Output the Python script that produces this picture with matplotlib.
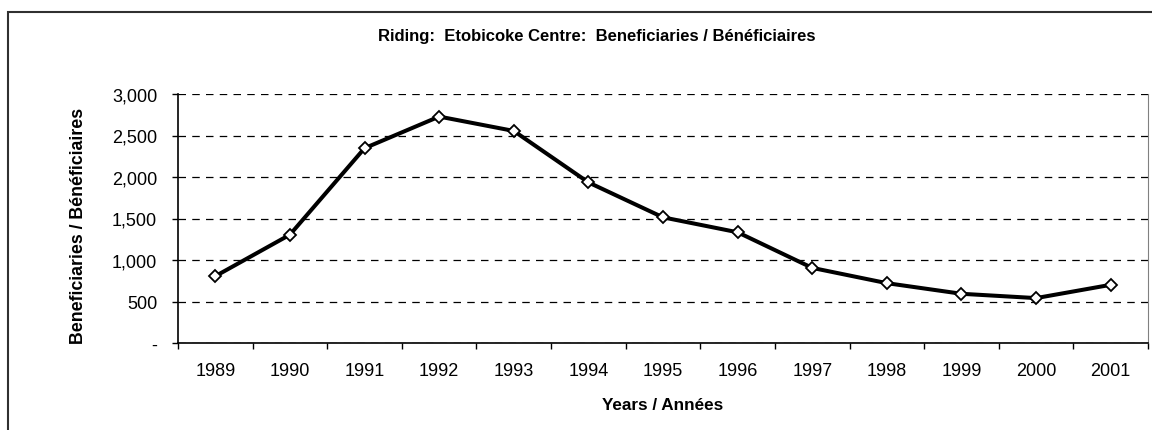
import matplotlib
matplotlib.use('Agg')
import matplotlib.pyplot as plt
from matplotlib import font_manager
from matplotlib.patches import Rectangle
from matplotlib.ticker import FuncFormatter, FixedLocator

# Данные
years = ['1989', '1990', '1991', '1992', '1993', '1994', '1995',
         '1996', '1997', '1998', '1999', '2000', '2001']
beneficiaries = [805, 1305, 2347, 2728, 2555, 1935, 1514,
                 1334, 905, 721, 593, 541, 701]
y_ticks = [0, 500, 1000, 1500, 2000, 2500, 3000]

title = 'Riding:  Etobicoke Centre:  Beneficiaries / Bénéficiaires'
x_label = 'Years / Années'
y_label = 'Beneficiaries / Bénéficiaires'

# Шрифты
names = {f.name for f in font_manager.fontManager.ttflist}
narrow = 'Liberation Sans Narrow' if 'Liberation Sans Narrow' in names else 'Liberation Sans'
plt.rcParams['font.family'] = ['Liberation Sans', 'DejaVu Sans']

W, H = 1152, 431
fig = plt.figure(figsize=(W / 100, H / 100), dpi=100)

# Рамка вокруг диаграммы (уходит за правый и нижний край)
frame = Rectangle((8 / W, -0.2), 1.2, 1 - 13 / H + 0.2, transform=fig.transFigure,
                  fill=False, edgecolor='#303030', linewidth=1.5, clip_on=False)
fig.patches.append(frame)

ax = fig.add_axes([178 / W, 1 - 344 / H, (1148 - 178) / W, (344 - 95) / H])

x = list(range(len(years)))
ax.plot(x, beneficiaries, color='black', linewidth=2.9, marker='D', markersize=6.5,
        markerfacecolor='white', markeredgecolor='black', markeredgewidth=1.3,
        zorder=3)

ax.set_xlim(-0.5, len(years) - 0.5)
ax.set_ylim(0, 3000)

# Деления оси X на границах категорий, подписи по центрам
ax.xaxis.set_major_locator(FixedLocator([i - 0.5 for i in range(len(years) + 1)]))
ax.xaxis.set_major_formatter(FuncFormatter(lambda v, p: ''))
ax.xaxis.set_minor_locator(FixedLocator(x))
ax.set_xticklabels(years, minor=True)
ax.tick_params(axis='x', which='major', direction='out', length=4, width=1, color='black')
ax.tick_params(axis='x', which='minor', length=0, pad=14, labelsize=13)

ax.set_yticks(y_ticks)
ax.yaxis.set_major_formatter(FuncFormatter(lambda v, p: '-' if v == 0 else f'{v:,.0f}'))
ax.tick_params(axis='y', direction='out', length=4, width=1, pad=11, labelsize=13)

ax.yaxis.grid(True, color='black', linewidth=0.9, linestyle=(0, (6, 5)))
ax.set_axisbelow(True)

ax.spines['top'].set_visible(False)
ax.spines['right'].set_color('#808080')
ax.spines['left'].set_linewidth(1.2)
ax.spines['bottom'].set_linewidth(1.2)

ax.set_xlabel(x_label, fontsize=12.3, fontweight='bold', family=narrow)
ax.xaxis.set_label_coords(0.5, -0.215)
ax.set_ylabel(y_label, fontsize=12.8, fontweight='bold', family=narrow)
ax.yaxis.set_label_coords(-0.094, 0.474)

fig.text(597 / W, 1 - 37 / H, title, ha='center', va='center',
         fontsize=12, fontweight='bold', family=narrow)

fig.savefig('out.png', dpi=100)
